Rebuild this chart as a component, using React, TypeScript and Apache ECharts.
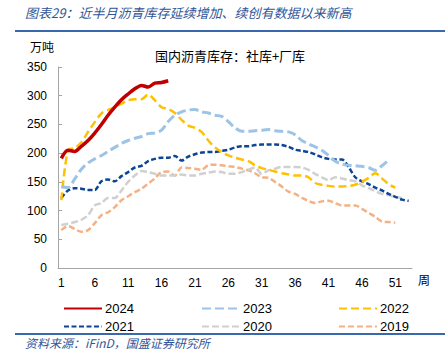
import React, { useEffect, useRef } from "react";
import * as echarts from "echarts";

const weeks = Array.from({ length: 53 }, (_, i) => String(i + 1));
const yTicks = [0, 50, 100, 150, 200, 250, 300, 350];

const s2024 = [191, 205, 203, 212, 222, 235, 250, 266, 280, 293, 303, 312, 318, 315, 322, 323, 326];
const s2023 = [142, 140, 155, 172, 183, 190, 196, 203, 210, 217, 222, 226, 229, 234, 235, 240, 255, 266, 272, 275, 276, 272, 270, 266, 264, 255, 244, 238, 238, 239, 240, 241, 239, 238, 237, 232, 222, 216, 211, 205, 196, 186, 181, 179, 178, 177, 175, 170, 178, 188];
const s2022 = [118, 205, 209, 219, 237, 254, 269, 275, 280, 286, 292, 294, 294, 302, 292, 280, 277, 270, 258, 248, 244, 237, 222, 210, 202, 196, 192, 189, 186, 179, 174, 171, 168, 165, 163, 161, 161, 158, 148, 145, 143, 142, 142, 143, 145, 150, 157, 165, 156, 146, 140];
const s2021 = [122, 135, 139, 138, 136, 136, 151, 154, 151, 160, 167, 175, 178, 186, 190, 192, 192, 195, 187, 194, 198, 201, 202, 202, 204, 206, 210, 212, 212, 214, 215, 215, 215, 214, 211, 206, 204, 202, 198, 193, 190, 189, 189, 176, 158, 151, 146, 140, 135, 129, 124, 119, 117];
const s2020 = [75, 77, 80, 84, 92, 109, 113, 122, 122, 135, 150, 161, 169, 167, 164, 161, 161, 161, 163, 161, 161, 164, 166, 168, 167, 164, 164, 167, 171, 175, 164, 170, 173, 176, 176, 176, 175, 171, 164, 158, 153, 158, 156, 153, 151, 144, 139, 134, 129, 127, 124, 122];
const s2019 = [66, 73, 68, 63, 66, 78, 92, 97, 106, 118, 125, 132, 138, 147, 156, 167, 168, 161, 175, 174, 173, 171, 179, 180, 179, 177, 176, 173, 170, 165, 158, 157, 150, 142, 133, 129, 122, 117, 113, 116, 117, 113, 109, 109, 109, 103, 96, 89, 81, 80, 79];

const blue = "#2F5597";
const cjk = "'Noto Sans CJK SC', sans-serif";
const latin = "'Liberation Sans', Arial, sans-serif";

export default function App() {
  const ref = useRef<HTMLDivElement>(null);
  useEffect(() => {
    if (!ref.current) return;
    const chart = echarts.init(ref.current, undefined, { renderer: "svg" });
    const mk = (name: string, data: number[], color: string, width: number, type: any) => ({
      name,
      type: "line",
      data,
      symbol: "none",
      smooth: 0.3,
      lineStyle: { color, width, type },
      itemStyle: { color },
      z: name === "2024" ? 10 : 2,
    });
    const legendBase = {
      orient: "vertical",
      top: 297,
      itemWidth: 38,
      itemHeight: 12,
      itemGap: 5,
      itemStyle: { opacity: 0 },
      textStyle: { fontFamily: latin, fontSize: 13, color: "#000", padding: [0, 0, 0, -2] },
    };
    chart.setOption({
      animation: false,
      grid: { left: 58, right: 36, top: 67, bottom: 94 },
      legend: [
        { ...legendBase, left: 58, data: ["2024", "2021"] },
        { ...legendBase, left: 196, data: ["2023", "2020"] },
        { ...legendBase, left: 333, data: ["2022", "2019"] },
      ],
      xAxis: {
        type: "category",
        data: weeks,
        boundaryGap: true,
        axisLine: { lineStyle: { color: "#A6A6A6", width: 1 } },
        axisTick: { show: false },
        axisLabel: { interval: 4, fontFamily: latin, fontSize: 12, color: "#000", margin: 9 },
      },
      yAxis: {
        type: "value",
        min: yTicks[0],
        max: yTicks[yTicks.length - 1],
        interval: 50,
        splitLine: { show: false },
        axisLine: { show: true, lineStyle: { color: "#A6A6A6", width: 1 } },
        axisTick: { show: true, inside: true, length: 4, lineStyle: { color: "#A6A6A6" } },
        axisLabel: { fontFamily: latin, fontSize: 12, color: "#000", margin: 11 },
      },
      graphic: [
        {
          type: "text",
          left: 25,
          top: 6,
          style: {
            text: "图表29：近半月沥青库存延续增加、续创有数据以来新高",
            font: `italic 13px ${cjk}`,
            fill: blue,
          },
        },
        { type: "line", shape: { x1: 15, y1: 31, x2: 445, y2: 31 }, style: { stroke: "#3A68AE", lineWidth: 2 } },
        { type: "text", left: 30, top: 40, style: { text: "万吨", font: `12px ${cjk}`, fill: "#000" } },
        {
          type: "text",
          x: 230,
          y: 55,
          style: { text: "国内沥青库存：社库+厂库", font: `13px ${cjk}`, fill: "#000", align: "center", verticalAlign: "middle" },
        },
        { type: "text", left: 418, top: 273, style: { text: "周", font: `12px ${cjk}`, fill: "#000" } },
        { type: "line", shape: { x1: 15, y1: 334, x2: 445, y2: 334 }, style: { stroke: "#3A68AE", lineWidth: 2 } },
        {
          type: "text",
          left: 25,
          top: 336,
          style: { text: "资料来源：iFinD，国盛证券研究所", font: `italic 12px ${cjk}`, fill: blue },
        },
      ],
      series: [
        mk("2019", s2019, "#F4B183", 2.5, [6, 3]),
        mk("2020", s2020, "#D0D0D0", 2.5, [7, 3]),
        mk("2021", s2021, "#0B4595", 2.5, [5, 2.5]),
        mk("2022", s2022, "#FFC000", 2.5, [8, 4]),
        mk("2023", s2023, "#9DC3E6", 3, [9, 4]),
        mk("2024", s2024, "#C00000", 3.5, "solid"),
      ],
    });
    return () => chart.dispose();
  }, []);
  return <div ref={ref} style={{ width: 448, height: 362, position: "absolute", left: 0, top: 0 }} />;
}
